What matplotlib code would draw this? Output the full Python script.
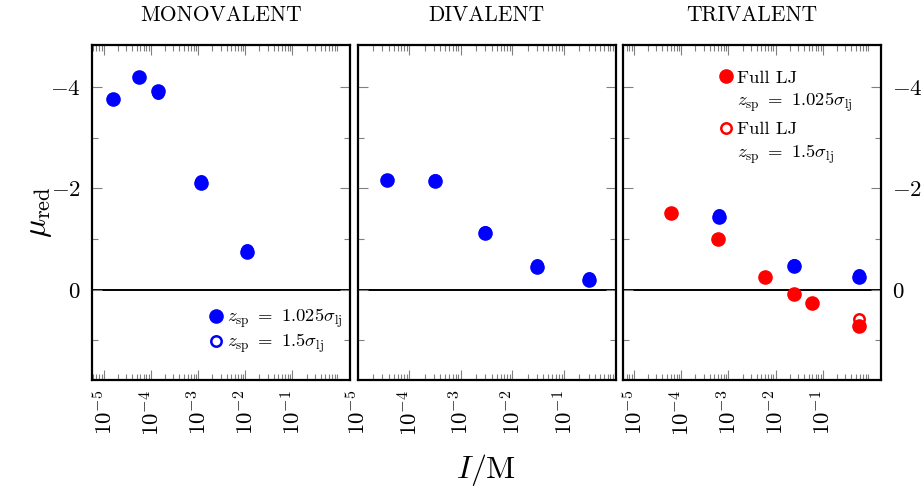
import numpy as np
import matplotlib
matplotlib.use("Agg")
import matplotlib.pyplot as plt
from matplotlib.lines import Line2D
from matplotlib.ticker import FixedLocator, LogLocator, NullFormatter

plt.rcParams['font.family'] = 'serif'
plt.rcParams['font.serif'] = ['cmr10']
plt.rcParams['mathtext.fontset'] = 'cm'
plt.rcParams['axes.formatter.use_mathtext'] = True

# donnees : I en M, mu_red
titles = ["MONOVALENT", "DIVALENT", "TRIVALENT"]

mono_I = [1.55e-5, 5.6e-5, 1.38e-4, 1.15e-3, 1.07e-2]
mono_mu = [-3.77, -4.20, -3.93, -2.10, -0.75]
mono_mu15 = [-3.76, -4.19, -3.89, -2.14, -0.78]

di_I = [3.7e-5, 3.2e-4, 3.0e-3, 3.0e-2, 0.30]
di_mu = [-2.16, -2.15, -1.13, -0.45, -0.20]
di_mu15 = [-2.17, -2.17, -1.15, -0.48, -0.24]

tri_I = [6.3e-4, 2.5e-2, 0.575]
tri_mu = [-1.44, -0.46, -0.26]
tri_mu15 = [-1.47, -0.49, -0.29]

tri_lj_I = [6.0e-5, 6.0e-4, 5.9e-3, 2.5e-2, 5.8e-2, 0.575]
tri_lj_mu = [-1.52, -1.01, -0.26, 0.09, 0.26, 0.72]
tri_lj15_I = [0.575]
tri_lj15_mu = [0.57]

xdecades = [1e-5, 1e-4, 1e-3, 1e-2, 1e-1]
xlabels = [r"$10^{-5}$", r"$10^{-4}$", r"$10^{-3}$", r"$10^{-2}$", r"$10^{-1}$"]
ylabs = [r"$-4$", r"$-2$", r"$0$"]

blue = "#0000ff"
red = "#ff0000"
ms_full = 9.5
ms_open = 7.5
lab1 = r"$z_{\rm sp}\ =\ 1.025\sigma_{\rm lj}$"
lab2 = r"$z_{\rm sp}\ =\ 1.5\sigma_{\rm lj}$"

fig = plt.figure(figsize=(9.22, 4.95), dpi=100)
W, H = 922.0, 495.0
lefts = [92, 357.5, 622.5]
axes = []
for i, l in enumerate(lefts):
    ax = fig.add_axes([l / W, (H - 380) / H, 258 / W, 335 / H])
    axes.append(ax)

xlims = [(10**-5.25, 10**0.22), (1e-5, 1.0), (10**-5.24, 10**0.22)]

for i, ax in enumerate(axes):
    ax.set_xscale("log")
    ax.set_xlim(*xlims[i])
    ax.set_ylim(1.78, -4.83)
    ax.axhline(0, color="k", lw=1.4, zorder=1)
    ax.set_title(titles[i], fontsize=15.5, pad=17)
    ax.xaxis.set_major_locator(FixedLocator(xdecades))
    ax.xaxis.set_minor_locator(LogLocator(base=10, subs=np.arange(2, 10), numticks=20))
    ax.xaxis.set_minor_formatter(NullFormatter())
    ax.set_xticklabels(xlabels, rotation=90, fontsize=16.5)
    ax.yaxis.set_major_locator(FixedLocator([-4, -2, 0]))
    ax.yaxis.set_minor_locator(FixedLocator([-3, -1, 1]))
    ax.set_yticklabels(ylabs, fontsize=16.5)
    ax.tick_params(which="both", direction="in", top=True, bottom=True,
                   left=True, right=True, color="0.5", width=0.8)
    ax.tick_params(which="major", length=7.5)
    ax.tick_params(which="minor", length=4)
    ax.tick_params(axis="x", pad=7)
    ax.tick_params(axis="y", pad=8)
    for s in ax.spines.values():
        s.set_linewidth(1.6)
    if i == 0:
        ax.tick_params(axis="y", labelleft=True, labelright=False)
    elif i == 1:
        ax.tick_params(axis="y", labelleft=False, labelright=False)
    else:
        ax.tick_params(axis="y", labelleft=False, labelright=True)

# monovalent
ax = axes[0]
ax.plot(mono_I, mono_mu15, "o", ms=ms_open, mfc="none", mec=blue, mew=1.8, zorder=3)
ax.plot(mono_I, mono_mu, "o", ms=ms_full, color=blue, zorder=4)
h = [Line2D([], [], ls="", marker="o", ms=ms_full, color=blue),
     Line2D([], [], ls="", marker="o", ms=ms_open, mfc="none", mec=blue, mew=1.8)]
ax.legend(h, [lab1, lab2],
          loc="lower right", bbox_to_anchor=(1.0, 0.05), frameon=False, fontsize=13.4,
          handlelength=0.8, handletextpad=0.2, labelspacing=0.05, borderaxespad=0)

# divalent
ax = axes[1]
ax.plot(di_I, di_mu15, "o", ms=ms_open, mfc="none", mec=blue, mew=1.8, zorder=3)
ax.plot(di_I, di_mu, "o", ms=ms_full, color=blue, zorder=4)

# trivalent
ax = axes[2]
ax.plot(tri_I, tri_mu15, "o", ms=ms_open, mfc="none", mec=blue, mew=1.8, zorder=3)
ax.plot(tri_I, tri_mu, "o", ms=ms_full, color=blue, zorder=4)
ax.plot(tri_lj15_I, tri_lj15_mu, "o", ms=ms_open, mfc="none", mec=red, mew=1.8, zorder=3)
ax.plot(tri_lj_I, tri_lj_mu, "o", ms=ms_full, color=red, zorder=4)
blank = Line2D([], [], ls="", marker="")
h = [Line2D([], [], ls="", marker="o", ms=ms_full, color=red), blank,
     Line2D([], [], ls="", marker="o", ms=ms_open, mfc="none", mec=red, mew=1.8), blank]
ax.legend(h, ["Full LJ", lab1, "Full LJ", lab2],
          loc="upper left", bbox_to_anchor=(0.32, 0.965), frameon=False, fontsize=13.4,
          handlelength=0.8, handletextpad=0.2, labelspacing=0.3, borderaxespad=0.3)

fig.text(40 / W, 1 - 212 / H, r"$\mu_{\rm red}$", fontsize=23, rotation=90,
         ha="center", va="center")
fig.text(486 / W, 1 - 470 / H, r"$I/\mathrm{M}$", fontsize=23, ha="center", va="center")

fig.savefig("out.png", dpi=100)
